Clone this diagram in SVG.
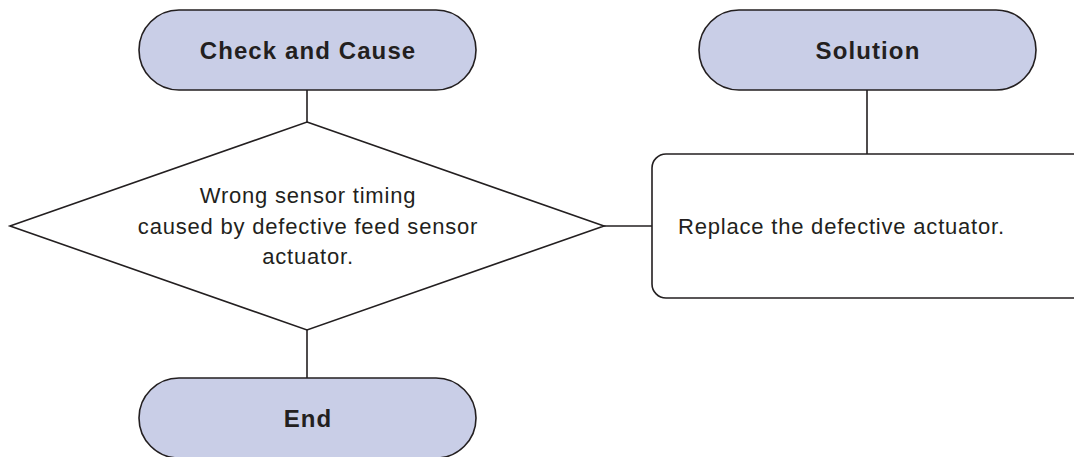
<svg xmlns="http://www.w3.org/2000/svg" width="1074" height="457" viewBox="0 0 1074 457">
<style>
.pill{fill:#c9cee7;stroke:#231f20;stroke-width:1.6}
.box{fill:#ffffff;stroke:#231f20;stroke-width:1.6}
.conn{stroke:#231f20;stroke-width:1.6;fill:none}
.bt{font-family:"Liberation Sans",Arial,sans-serif;font-weight:bold;font-size:24px;letter-spacing:1.1px;fill:#231f20;text-anchor:middle}
.t{font-family:"Liberation Sans",Arial,sans-serif;font-size:22px;letter-spacing:0.8px;fill:#231f20}
</style>
<rect width="1074" height="457" fill="#ffffff"/>
<g id="connectors">
<line class="conn" x1="307" y1="90" x2="307" y2="122"/>
<line class="conn" x1="307" y1="330" x2="307" y2="378"/>
<line class="conn" x1="604" y1="226" x2="652" y2="226"/>
<line class="conn" x1="867" y1="90" x2="867" y2="154"/>
</g>
<g id="check">
<rect class="pill" x="139" y="10" width="337" height="80" rx="40"/>
<text class="bt" x="308" y="59">Check and Cause</text>
</g>
<g id="solution">
<rect class="pill" x="699" y="10" width="337" height="80" rx="40"/>
<text class="bt" x="868" y="59">Solution</text>
</g>
<g id="decision">
<polygon class="box" points="307,122 604,226 307,330 10,226"/>
<text class="t" text-anchor="middle"><tspan x="308" y="203">Wrong sensor timing</tspan><tspan x="308" y="234">caused by defective feed sensor</tspan><tspan x="308" y="264">actuator.</tspan></text>
</g>
<g id="replace">
<rect class="box" x="652" y="154" width="436" height="144" rx="14"/>
<text class="t" x="678" y="234">Replace the defective actuator.</text>
</g>
<g id="end">
<rect class="pill" x="139" y="378" width="337" height="80" rx="40"/>
<text class="bt" x="308" y="427">End</text>
</g>
</svg>
